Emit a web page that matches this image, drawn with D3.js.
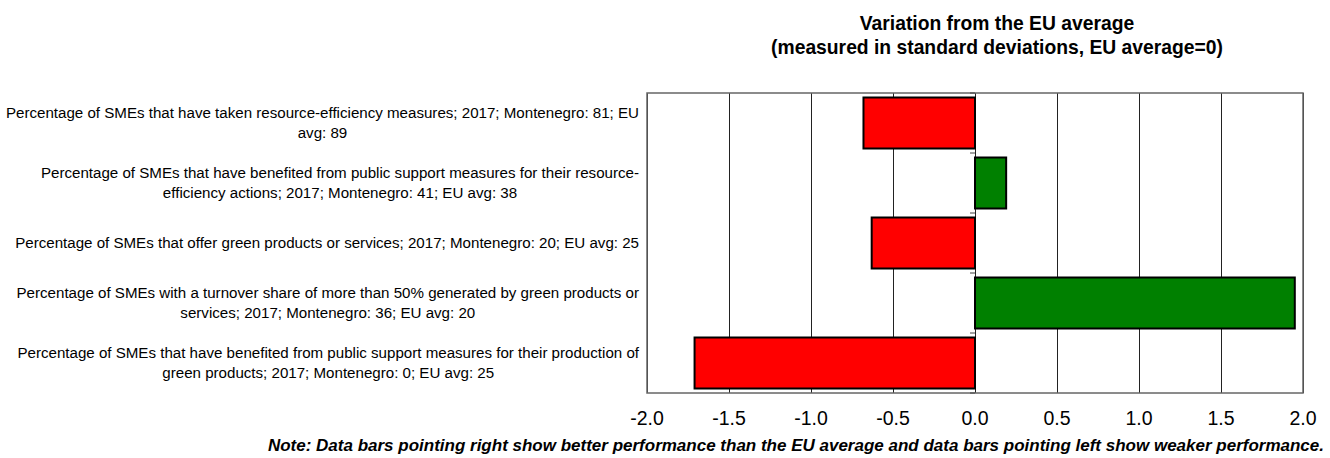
<!DOCTYPE html>
<html>
<head>
    <meta charset="utf-8">
    <style>
        body { margin: 0; background: #fff; }
        svg text { font-family: "Liberation Sans", Arial, sans-serif; fill: #000; }
        .title { font-size: 20px; font-weight: bold; }
        .catLabel { font-size: 14px; }
        .tickLabel { font-size: 19.5px; }
        .note { font-size: 17px; font-weight: bold; font-style: italic; }
    </style>
    <script src="https://d3js.org/d3.v7.min.js"></script>
</head>
<body>
    <svg width="1330" height="458"></svg>
    <script>

        // chart data
        const labels = [
            ["Percentage of SMEs that have taken resource-efficiency measures; 2017; Montenegro: 81; EU", "avg: 89"],
            ["Percentage of SMEs that have benefited from public support measures for their resource-", "efficiency actions; 2017; Montenegro: 41; EU avg: 38"],
            ["Percentage of SMEs that offer green products or services; 2017; Montenegro: 20; EU avg: 25"],
            ["Percentage of SMEs with a turnover share of more than 50% generated by green products or", "services; 2017; Montenegro: 36; EU avg: 20"],
            ["Percentage of SMEs that have benefited from public support measures for their production of", "green products; 2017; Montenegro: 0; EU avg: 25"]
        ]
        const values = [-0.68, 0.19, -0.63, 1.95, -1.71]
        const xTicks = [-2.0, -1.5, -1.0, -0.5, 0.0, 0.5, 1.0, 1.5, 2.0]
        const titleLines = ["Variation from the EU average", "(measured in standard deviations, EU average=0)"]
        const noteText = "Note: Data bars pointing right show better performance than the EU average and data bars pointing left show weaker performance."

        const plotLeft = 647, plotRight = 1303, plotTop = 93, plotBottom = 393
        const labelStretch = 1.08, titleStretch = 0.965

        const svg = d3.select("svg")

        const x = d3.scaleLinear().domain([-2, 2]).range([plotLeft, plotRight])
        const y = d3.scaleBand().domain(d3.range(values.length)).range([plotTop, plotBottom]).paddingInner(0.15).paddingOuter(0.075)

        // title
        svg.selectAll(".title")
            .data(titleLines)
            .join("text")
            .attr("class", "title")
            .attr("text-anchor", "middle")
            .attr("transform", (d, i) => `translate(997,${30 + i * 23.5}) scale(${titleStretch},1)`)
            .text(d => d)

        // grid lines
        svg.append("g")
            .selectAll("line")
            .data(xTicks)
            .join("line")
            .attr("x1", d => x(d))
            .attr("x2", d => x(d))
            .attr("y1", plotTop)
            .attr("y2", plotBottom)
            .attr("stroke", "#222")
            .attr("stroke-width", 1)
            .attr("shape-rendering", "crispEdges")

        // plot border
        svg.append("rect")
            .attr("x", plotLeft)
            .attr("y", plotTop)
            .attr("width", plotRight - plotLeft)
            .attr("height", plotBottom - plotTop)
            .attr("fill", "none")
            .attr("stroke", "#666")
            .attr("stroke-width", 1.5)

        // bars
        svg.append("g")
            .selectAll("rect")
            .data(values)
            .join("rect")
            .attr("x", d => x(Math.min(0, d)))
            .attr("width", d => Math.abs(x(d) - x(0)))
            .attr("y", (d, i) => y(i))
            .attr("height", y.bandwidth())
            .attr("fill", d => d < 0 ? "#ff0000" : "#008000")
            .attr("stroke", "#000")
            .attr("stroke-width", 2)

        // category tick marks on the zero axis
        const step = (plotBottom - plotTop) / values.length
        svg.append("g")
            .selectAll("line")
            .data(d3.range(values.length + 1))
            .join("line")
            .attr("x1", x(0) - 5)
            .attr("x2", x(0))
            .attr("y1", i => plotTop + i * step)
            .attr("y2", i => plotTop + i * step)
            .attr("stroke", "#444")
            .attr("stroke-width", 1)

        // x axis labels
        svg.append("g")
            .selectAll("text")
            .data(xTicks)
            .join("text")
            .attr("class", "tickLabel")
            .attr("x", d => x(d))
            .attr("y", 425)
            .attr("text-anchor", "middle")
            .text(d => d.toFixed(1))

        // category labels (first line right-aligned, others centred under it)
        const labelGroups = svg.append("g")
            .selectAll("g")
            .data(labels)
            .join("g")

        labelGroups.each(function (lines, i) {
            const g = d3.select(this)
            const cy = y(i) + y.bandwidth() / 2
            const y0 = cy + 5 - (lines.length - 1) * 10
            const first = g.append("text")
                .attr("class", "catLabel")
                .attr("text-anchor", "end")
                .attr("transform", `translate(639,${y0}) scale(${labelStretch},1)`)
                .text(lines[0])
            const w = first.node().getComputedTextLength() * labelStretch
            const cx = 639 - w / 2
            lines.slice(1).forEach((line, j) => {
                g.append("text")
                    .attr("class", "catLabel")
                    .attr("text-anchor", "middle")
                    .attr("transform", `translate(${cx},${y0 + (j + 1) * 20}) scale(${labelStretch},1)`)
                    .text(line)
            })
        })

        // note
        svg.append("text")
            .attr("class", "note")
            .attr("text-anchor", "end")
            .attr("x", 1324)
            .attr("y", 451)
            .text(noteText)

    </script>
</body>
</html>
